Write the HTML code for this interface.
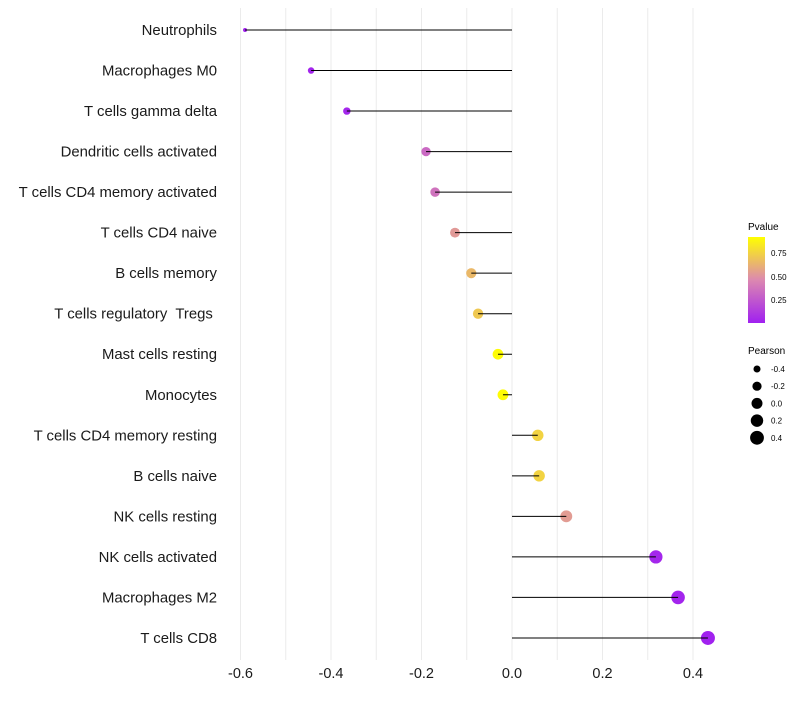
<!DOCTYPE html>
<html><head><meta charset="utf-8"><style>
body{margin:0;background:#fff;font-family:"Liberation Sans",sans-serif}
text{white-space:pre}
</style></head><body>
<svg width="800" height="700" xmlns="http://www.w3.org/2000/svg">
<defs><linearGradient id="pg" x1="0" y1="1" x2="0" y2="0">
<stop offset="0" stop-color="#a020f0"/><stop offset="0.5" stop-color="#dc88b0"/><stop offset="1" stop-color="#ffff00"/></linearGradient></defs>
<g id="grid"></g>
<g id="marks"></g>
<g id="ylab"></g>
<g id="xlab"></g>
<g>
<text x="748" y="230" font-size="10">Pvalue</text>
<rect x="748" y="237" width="17" height="86" fill="url(#pg)"/>
<text x="771" y="256" font-size="8">0.75</text>
<text x="771" y="280" font-size="8">0.50</text>
<text x="771" y="303" font-size="8">0.25</text>
</g>
<g id="sleg">
<text x="748" y="354" font-size="10">Pearson</text>
</g>
<script>
const categories=["Neutrophils","Macrophages M0","T cells gamma delta","Dendritic cells activated","T cells CD4 memory activated","T cells CD4 naive","B cells memory","T cells regulatory  Tregs ","Mast cells resting","Monocytes","T cells CD4 memory resting","B cells naive","NK cells resting","NK cells activated","Macrophages M2","T cells CD8"];
const pearson=[-0.59,-0.444,-0.365,-0.19,-0.17,-0.126,-0.09,-0.075,-0.031,-0.02,0.057,0.06,0.12,0.318,0.367,0.433];
const pvalues=[0.01,0.02,0.03,0.32,0.36,0.52,0.64,0.7,0.9,0.9,0.74,0.74,0.53,0.03,0.02,0.01];
const xTicks=[-0.6,-0.4,-0.2,0.0,0.2,0.4];
const sizeLegend=[-0.4,-0.2,0.0,0.2,0.4];
const NS="http://www.w3.org/2000/svg";
const x=v=>512+v*452.5, y=i=>30+i*40.53, r=v=>Math.sqrt(Math.max(1,30+44*v));
function mix(a,b,t){return a.map((c,i)=>Math.round(c+(b[i]-c)*t));}
function col(p){const t=Math.max(0,Math.min(1,p/0.91));const lo=[160,32,240],mid=[220,136,176],hi=[255,255,0];
const c=t<0.5?mix(lo,mid,t*2):mix(mid,hi,(t-0.5)*2);return `rgb(${c})`;}
function mk(tag,at,parent){const e=document.createElementNS(NS,tag);for(const k in at)e.setAttribute(k,at[k]);document.getElementById(parent).appendChild(e);return e;}
for(let v=-0.6;v<=0.45;v+=0.1){const l=mk('line',{x1:x(v),x2:x(v),y1:8,y2:660,stroke:'#ebebeb','stroke-width':1},'grid');

}
categories.forEach((c,i)=>{
const d=mk('circle',{cx:x(pearson[i]),cy:y(i),r:r(pearson[i]),fill:col(pvalues[i])},'marks');


const s=mk('line',{x1:x(0),x2:x(pearson[i]),y1:y(i),y2:y(i),stroke:'#000','stroke-width':1},'marks');


const t=mk('text',{x:217,y:y(i)+5,'text-anchor':'end','font-size':14.9,fill:'#1a1a1a'},'ylab');t.textContent=c;


});
xTicks.forEach(v=>{const t=mk('text',{x:x(v),y:678,'text-anchor':'middle','font-size':14.5,fill:'#1a1a1a'},'xlab');t.textContent=v.toFixed(1);

});
sizeLegend.forEach((v,i)=>{const cy=369+i*17.2;
const c=mk('circle',{cx:757,cy:cy,r:r(v),fill:'#000'},'sleg');


const t=mk('text',{x:771,y:cy+3,'font-size':8},'sleg');t.textContent=v.toFixed(1);

});
</script>
</svg></body></html>
